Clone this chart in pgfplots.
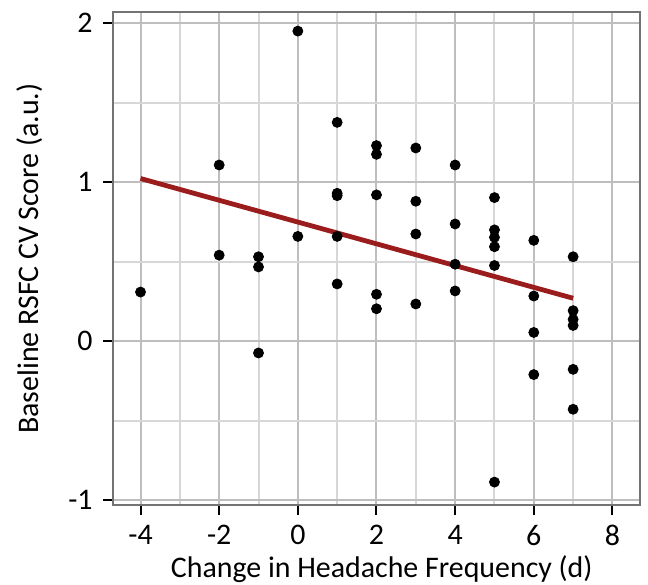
\documentclass[border=0pt]{standalone}
\usepackage{pgfplots}
\pgfplotsset{compat=1.18}
\usepackage{fontspec}
\setmainfont{Carlito}

\definecolor{fitred}{RGB}{155,28,28}
\definecolor{gridmajor}{RGB}{190,190,190}
\definecolor{gridminor}{RGB}{215,215,215}

\begin{document}
\fontsize{15}{18}\selectfont
\begin{tikzpicture}
\path[use as bounding box] (-56.5bp,-40bp) rectangle (267.5bp,252.5bp);
\begin{axis}[
    scale only axis,
    width=263.5bp,
    height=246.5bp,
    xmin=-4.7, xmax=8.7,
    ymin=-1.03, ymax=2.07,
    xtick={-4,-2,0,2,4,6,8},
    xticklabels={-4,-2,0,2,4,6,8},
    minor xtick={-3,-1,1,3,5,7},
    ytick={-1,0,1,2},
    yticklabels={-1,0,1,2},
    minor ytick={-0.5,0.5,1.5},
    grid=both,
    major grid style={gridmajor, line width=1bp},
    minor grid style={gridminor, line width=1bp},
    minor tick length=0pt,
    tick align=outside,
    major tick length=5bp,
    xtick pos=bottom,
    ytick pos=left,
    tick style={black, line width=1bp},
    axis line style={black!55, line width=1bp},
    xlabel={Change in Headache Frequency (d)},
    ylabel={Baseline RSFC CV Score (a.u.)},
    every axis x label/.style={at={(axis description cs:0.51,-0.131)}, anchor=center},
    every axis y label/.style={at={(axis description cs:-0.1575,0.5)}, anchor=center, rotate=90},
    label style={font=\fontsize{15}{18}\selectfont},
    tick label style={font=\fontsize{15}{18}\selectfont},
]
\addplot[only marks, mark=*, mark size=2.5bp, black] coordinates {
    (-4,0.309)
    (-2,1.108) (-2,0.541)
    (-1,0.531) (-1,0.467) (-1,-0.074)
    (0,1.95) (0,0.659)
    (1,1.376) (1,0.93) (1,0.915) (1,0.659) (1,0.36)
    (2,1.23) (2,1.175) (2,0.92) (2,0.295) (2,0.204)
    (3,1.215) (3,0.88) (3,0.674) (3,0.234)
    (4,1.108) (4,0.737) (4,0.484) (4,0.316)
    (5,0.903) (5,0.70) (5,0.653) (5,0.594) (5,0.476) (5,-0.886)
    (6,0.634) (6,0.284) (6,0.055) (6,-0.21)
    (7,0.531) (7,0.192) (7,0.137) (7,0.099) (7,-0.177) (7,-0.428)
};
\addplot[fitred, line width=2.4bp, no marks] coordinates {
    (-4,1.023) (7,0.27)
};
\end{axis}
\end{tikzpicture}
\end{document}
